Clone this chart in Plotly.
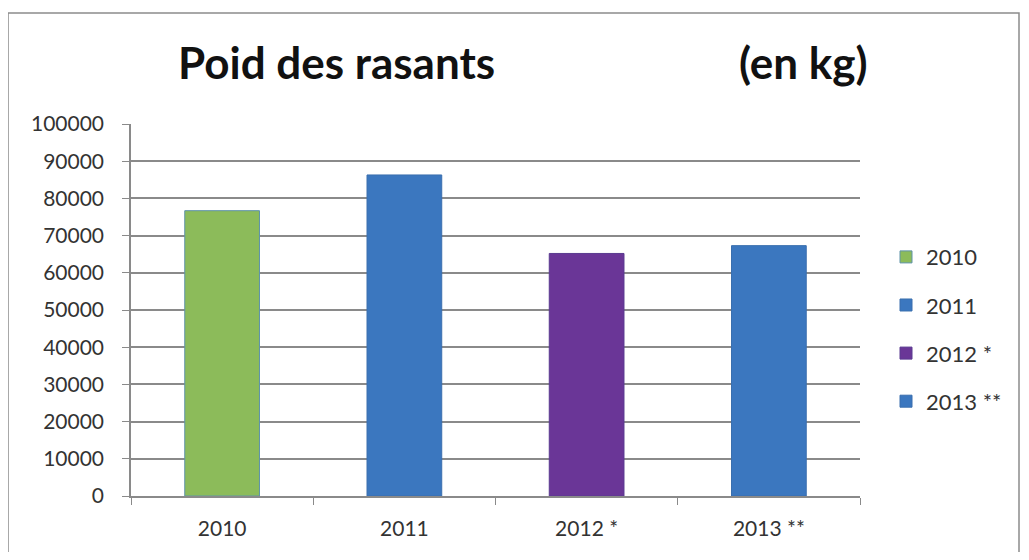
import plotly.graph_objects as go

categories = ["2010", "2011", "2012 *", "2013 **"]
values = [76700, 86300, 65200, 67300]
colors = ["#8cbb5a", "#3b77bf", "#6a3697", "#3b77bf"]
outline = ["#5f93a8", "#3a6fae", "#5a3a90", "#3a6fae"]
y_ticks = [0, 10000, 20000, 30000, 40000, 50000, 60000, 70000, 80000, 90000, 100000]

# page body has an 8px margin; work in page coordinates and convert
OFF = 8
W, H = 1029 - 2 * OFF, 560 - 2 * OFF
L, R, T, B = 131 - OFF, 860 - OFF, 124 - OFF, 499 - OFF
pw, ph = R - L, B - T

def px(x):
    return (x - OFF - L) / pw

def py(y):
    return (B - (y - OFF)) / ph

FONT = "Lato"
fig = go.Figure()
for i, (c, v) in enumerate(zip(categories, values)):
    fig.add_trace(go.Bar(
        x=[c], y=[v], name=c, width=0.41,
        marker=dict(color=colors[i], line=dict(color=outline[i], width=1)),
        legendgroup=c,
    ))

fig.update_layout(
    width=W, height=H,
    margin=dict(l=L, r=W - R, t=T, b=H - B),
    paper_bgcolor="white", plot_bgcolor="white",
    barmode="overlay",
    font=dict(family=FONT, size=21, color="#333333"),
    showlegend=True,
    legend=dict(x=px(886), y=py(237), xanchor="left", yanchor="top",
                traceorder="grouped", tracegroupgap=16.5,
                font=dict(size=22, color="#333333"),
                itemwidth=30, bgcolor="rgba(0,0,0,0)"),
    xaxis=dict(type="category", categoryorder="array", categoryarray=categories,
               showline=True, linecolor="#8a8a8a", linewidth=1.5,
               ticks="outside", tickson="boundaries", ticklen=7, tickcolor="#8a8a8a",
               ticklabelstandoff=13,
               tickfont=dict(size=21, color="#333333"), showgrid=False),
    yaxis=dict(range=[0, 100000], tickvals=y_ticks, ticktext=[str(t) for t in y_ticks],
               showline=True, linecolor="#8a8a8a", linewidth=1.5,
               ticks="outside", ticklen=7, tickcolor="#8a8a8a",
               ticklabelstandoff=14,
               showgrid=True, gridcolor="#8a8a8a", gridwidth=1.5,
               tickfont=dict(size=21, color="#333333"), zeroline=False),
    shapes=[dict(type="rect", xref="paper", yref="paper",
                 x0=px(8), x1=px(1019), y0=py(580), y1=py(12),
                 line=dict(color="#8c8c8c", width=1.5), fillcolor="rgba(0,0,0,0)", layer="below")],
    annotations=[
        dict(text="<b>Poid des rasants</b>", xref="paper", yref="paper",
             x=px(336), y=py(62), xanchor="center", yanchor="middle",
             showarrow=False, font=dict(family=FONT, size=44, color="#111111")),
        dict(text="<b>(en kg)</b>", xref="paper", yref="paper",
             x=px(803), y=py(62), xanchor="center", yanchor="middle",
             showarrow=False, font=dict(family=FONT, size=44, color="#111111")),
    ],
)

fig.write_html("out.html")
